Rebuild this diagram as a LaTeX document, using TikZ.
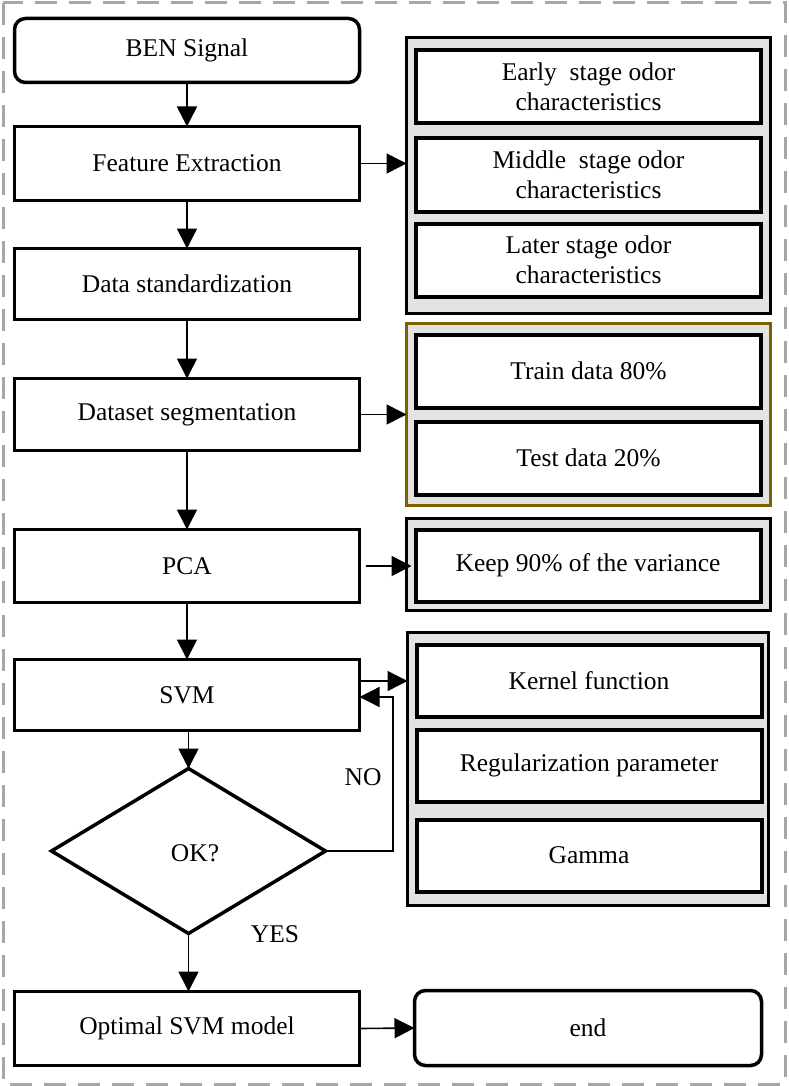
\documentclass[tikz,border=0pt]{standalone}
\usepackage{fontspec}
\setmainfont{Liberation Serif}
\usetikzlibrary{arrows.meta,shapes.geometric}
\definecolor{grpgrey}{HTML}{E3E3E3}
\definecolor{brownline}{HTML}{7F6000}
\definecolor{dashgrey}{HTML}{A6A6A6}
\begin{document}
\begin{tikzpicture}[x=1pt,y=-1pt,
  font=\fontsize{25.5}{30}\selectfont,
  every node/.style={outer sep=0pt,inner sep=0pt,align=center},
  mainbox/.style={draw,line width=3.5pt,fill=white,minimum width=345pt},
  roundbox/.style={mainbox,rounded corners=11pt},
  grp/.style={draw,line width=3.5pt,fill=grpgrey,minimum width=364pt},
  subbox/.style={draw,line width=4pt,fill=white,minimum width=345pt,minimum height=73pt},
  arr/.style={line width=1.6pt,-{Triangle[length=20pt,width=20pt]}},
  thinarr/.style={line width=1.3pt,-{Triangle[length=20pt,width=20pt]}},
  lbl/.style={}
]
\useasboundingbox (0,0) rectangle (788,1086);
\draw[dashgrey,line width=3pt,dash pattern=on 22pt off 12pt] (3,3) rectangle (785,1084);

% left column
\node[roundbox,minimum height=64pt] (ben) at (187,50.5) {BEN Signal};
\node[mainbox,minimum height=74pt] (feat) at (187,163.5) {Feature Extraction};
\node[mainbox,minimum height=71pt] (std) at (187,284) {Data standardization};
\node[mainbox,minimum height=72pt] (seg) at (187,414.5) {Dataset segmentation};
\node[mainbox,minimum height=73pt] (pca) at (187,566) {PCA};
\node[mainbox,minimum height=71pt] (svm) at (187,695) {SVM};
\node[draw,line width=3.5pt,fill=white,diamond,minimum width=274pt,minimum height=165pt] (dia) at (188.5,851) {};
\node (ok) at (195,853) {OK?};
\node[mainbox,minimum height=74pt] (opt) at (187,1028.5) {Optimal SVM model};
\node[roundbox,minimum width=347pt,minimum height=75pt] (end) at (588,1028) {end};

% right groups
\node[grp,minimum height=276pt] (g1) at (588.5,175.5) {};
\node[subbox] (early) at (588.5,87) {Early\ \ stage odor\\characteristics};
\node[subbox] (middle) at (588.5,175) {Middle\ \ stage odor\\characteristics};
\node[subbox] (later) at (588.5,260) {Later stage odor\\characteristics};

\node[grp,draw=brownline,line width=2.5pt,minimum height=182pt] (g2) at (588.5,414.5) {};
\node[subbox] (train) at (588.5,371) {Train data 80\%};
\node[subbox] (test) at (588.5,458) {Test data 20\%};

\node[grp,minimum height=92pt] (g3) at (588.5,564.5) {};
\node[subbox,minimum height=72pt] (keep) at (588,565.5) {Keep 90\% of the variance};

\node[grp,minimum width=361pt,minimum height=273pt] (g4) at (588,769) {};
\node[subbox,minimum height=72pt] (kernel) at (589,680.5) {Kernel function};
\node[subbox,minimum height=72pt] (reg) at (589,765.5) {Regularization parameter};
\node[subbox,minimum height=72pt] (gamma) at (589,855.5) {Gamma};

% vertical flow
\draw[arr] (ben.south) -- (ben.south |- feat.north);
\draw[arr] (feat.south) -- (feat.south |- std.north);
\draw[arr] (std.south) -- (std.south |- seg.north);
\draw[arr] (seg.south) -- (seg.south |- pca.north);
\draw[arr] (pca.south) -- (pca.south |- svm.north);
\draw[arr] (svm.south -| dia.north) -- (dia.north);
\draw[arr] (dia.south) -- (dia.south |- opt.north);
\draw[arr] (opt.east) -- (end.west);

% side arrows
\draw[arr] (feat.east) -- (feat.east -| g1.west);
\draw[arr] (seg.east) -- (seg.east -| g2.west);
\coordinate (pcas) at ([xshift=6pt]pca.east);
\coordinate (pcat) at ([xshift=5pt]g3.west);
\draw[arr] (pcas) -- (pcas -| pcat);
\coordinate (svmo) at ([yshift=14pt]svm.east);
\draw[thinarr] (svmo) -- (svmo -| g4.west);
\coordinate (nob) at (393,697);
\draw[thinarr] (dia.east) -| (nob) -- (nob -| svm.east);

\node[lbl] (no) at (363,777) {NO};
\node[lbl] (yes) at (275,934) {YES};
\end{tikzpicture}
\end{document}
